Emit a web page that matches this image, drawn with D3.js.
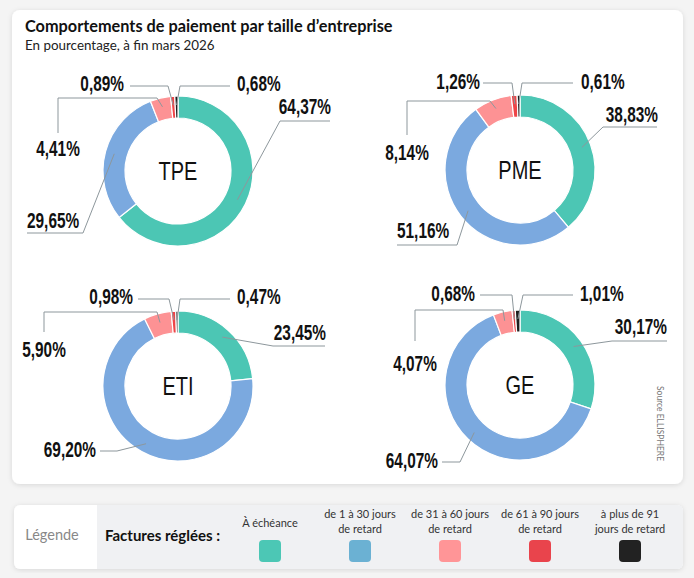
<!DOCTYPE html>
<html>
<head>
<meta charset="utf-8">
<script src="https://cdn.jsdelivr.net/npm/d3@7"></script>
<style>
  html, body { margin: 0; padding: 0; background: #f4f4f4; }
  svg { display: block; }
</style>
</head>
<body>
<svg id="chart" width="694" height="578"></svg>
<script>
// data
var categories = ["TPE", "PME", "ETI", "GE"];
var seriesNames = ["À échéance", "de 1 à 30 jours de retard", "de 31 à 60 jours de retard",
                   "de 61 à 90 jours de retard", "à plus de 91 jours de retard"];
var tpeValues = [64.37, 29.65, 4.41, 0.89, 0.68];
var pmeValues = [38.83, 51.16, 8.14, 1.26, 0.61];
var etiValues = [23.45, 69.20, 5.90, 0.98, 0.47];
var geValues  = [30.17, 64.07, 4.07, 0.68, 1.01];
var legendLines = [["À échéance"], ["de 1 à 30 jours", "de retard"], ["de 31 à 60 jours", "de retard"],
                   ["de 61 à 90 jours", "de retard"], ["à plus de 91", "jours de retard"]];

var ringColors = ["#4cc6b4", "#7ba9df", "#fd9294", "#ee4548", "#1e1e1e"];
var legendColors = ["#4cc7b5", "#6bb1d3", "#ff9597", "#e9444c", "#222222"];

var svg = d3.select("#chart");
// condensed look: Liberation Sans squeezed horizontally
var labelFont = "'Liberation Sans', Arial, sans-serif";
var uiFont = "Lato, 'Open Sans', sans-serif";

// card
var defs = svg.append("defs");
var f = defs.append("filter").attr("id", "shadow").attr("x", "-5%").attr("y", "-5%").attr("width", "110%").attr("height", "110%");
f.append("feDropShadow").attr("dx", 0).attr("dy", 1).attr("stdDeviation", 2.5).attr("flood-color", "#000").attr("flood-opacity", 0.12);

svg.append("rect")
    .attr("x", 12).attr("y", 10).attr("width", 671).attr("height", 474)
    .attr("rx", 8).attr("fill", "#fff").attr("filter", "url(#shadow)");

svg.append("text").attr("x", 25).attr("y", 32)
    .style("font-family", uiFont).style("font-weight", 700).style("font-size", "16.3px").attr("fill", "#111")
    .text("Comportements de paiement par taille d\u2019entreprise");
svg.append("text").attr("x", 25).attr("y", 50)
    .style("font-family", uiFont).style("font-size", "13.4px").attr("fill", "#222")
    .text("En pourcentage, à fin mars 2026");

// source
svg.append("text")
    .attr("transform", "translate(657,386) rotate(90)")
    .style("font-family", uiFont).style("font-size", "8.5px").attr("fill", "#777")
    .text("Source ELLISPHERE");

// donuts
var outerR = 75, innerR = 53;
var pie = d3.pie().sort(null).value(function(d) { return d; });
var arc = d3.arc().innerRadius(innerR).outerRadius(outerR);
var labelArc = d3.arc().innerRadius(60).outerRadius(72);
var fmt = function(v) { return d3.format(".2f")(v).replace(".", ",") + "%"; };

var charts = [
  { name: categories[0], values: tpeValues, cx: 178, cy: 171,
    labels: [
      { pts: [[102, -50], [152, -50]], tx: 153, ty: -57, anchor: "end" },
      { pts: [[-95, 62], [-151, 62]], tx: -151, ty: 57, anchor: "start" },
      { pts: [[-21, -73], [-120, -73], [-120, -38]], tx: -120, ty: -15, anchor: "middle" },
      { pts: [[-10, -85], [-48, -85]], tx: -54, ty: -80, anchor: "end" },
      { pts: [[2, -85], [52, -85]], tx: 59, ty: -80, anchor: "start" }
    ] },
  { name: categories[1], values: pmeValues, cx: 520, cy: 170,
    labels: [
      { pts: [[83, -43], [137, -43]], tx: 138, ty: -48, anchor: "end" },
      { pts: [[-63, 75], [-123, 75]], tx: -123, ty: 68, anchor: "start" },
      { pts: [[-30, -69], [-113, -69], [-113, -35]], tx: -113, ty: -10, anchor: "middle" },
      { pts: [[-8, -87], [-37, -87]], tx: -40, ty: -81, anchor: "end" },
      { pts: [[2, -87], [53, -87]], tx: 61, ty: -81, anchor: "start" }
    ] },
  { name: categories[2], values: etiValues, cx: 178, cy: 386,
    labels: [
      { pts: [[95, -40], [147, -40]], tx: 148, ty: -46, anchor: "end" },
      { pts: [[-61, 65], [-78, 65]], tx: -82, ty: 71, anchor: "end" },
      { pts: [[-21, -74], [-134, -74], [-134, -54]], tx: -134, ty: -29, anchor: "middle" },
      { pts: [[-9, -87], [-40, -87]], tx: -45, ty: -82, anchor: "end" },
      { pts: [[2, -87], [52, -87]], tx: 59, ty: -82, anchor: "start" }
    ] },
  { name: categories[3], values: geValues, cx: 520, cy: 385,
    labels: [
      { pts: [[92, -44], [147, -44]], tx: 147, ty: -51, anchor: "end" },
      { pts: [[-60, 77], [-78, 77]], tx: -82, ty: 83, anchor: "end" },
      { pts: [[-17, -75], [-105, -75], [-105, -44]], tx: -105, ty: -14, anchor: "middle" },
      { pts: [[-8, -90], [-40, -90]], tx: -45, ty: -84, anchor: "end" },
      { pts: [[3, -90], [53, -90]], tx: 60, ty: -84, anchor: "start" }
    ] }
];

charts.forEach(function(c) {
  var g = svg.append("g").attr("transform", "translate(" + c.cx + "," + c.cy + ")");
  var arcs = pie(c.values);

  g.selectAll("path.slice")
      .data(arcs)
    .enter().append("path")
      .attr("class", "slice")
      .attr("d", arc)
      .attr("fill", function(d, i) { return ringColors[i]; })
      .attr("stroke", "#fff")
      .attr("stroke-width", 1.2);

  var line = d3.line();
  g.selectAll("path.leader")
      .data(arcs)
    .enter().append("path")
      .attr("class", "leader")
      .attr("fill", "none")
      .attr("stroke", "#8d979c")
      .attr("stroke-width", 1)
      .attr("d", function(d, i) {
        return line([labelArc.centroid(d)].concat(c.labels[i].pts));
      });

  g.selectAll("text.val")
      .data(arcs)
    .enter().append("text")
      .attr("class", "val")
      .attr("transform", function(d, i) {
        return "translate(" + c.labels[i].tx + "," + c.labels[i].ty + ") scale(0.7,1)";
      })
      .attr("text-anchor", function(d, i) { return c.labels[i].anchor; })
      .style("font-family", labelFont)
      .style("font-weight", 700)
      .style("font-size", "22px")
      .attr("fill", "#111")
      .text(function(d) { return fmt(d.data); });

  g.append("text")
      .attr("transform", "scale(0.8,1)")
      .attr("text-anchor", "middle")
      .attr("dy", "0.36em")
      .style("font-family", labelFont)
      .style("font-size", "25px")
      .attr("fill", "#111")
      .text(c.name);
});

// legend
var lg = svg.append("g");
lg.append("rect").attr("x", 14).attr("y", 505).attr("width", 669).attr("height", 64)
    .attr("rx", 6).attr("fill", "#fff").attr("filter", "url(#shadow)");
lg.append("path")
    .attr("d", "M97,505 H677 Q683,505 683,511 V563 Q683,569 677,569 H97 Z")
    .attr("fill", "#f0f1f3");
lg.append("text").attr("x", 52).attr("y", 540).attr("text-anchor", "middle")
    .style("font-family", uiFont).style("font-size", "14.5px").attr("fill", "#888")
    .text("Légende");
lg.append("text").attr("x", 105).attr("y", 541)
    .style("font-family", uiFont).style("font-weight", 700).style("font-size", "15px").attr("fill", "#111")
    .text("Factures réglées :");

var legendX = d3.scalePoint().domain(seriesNames).range([270, 630]);
var item = lg.selectAll("g.item")
    .data(seriesNames)
  .enter().append("g")
    .attr("class", "item")
    .attr("transform", function(d) { return "translate(" + legendX(d) + ",0)"; });

item.append("rect")
    .attr("x", -11).attr("y", 540).attr("width", 22).attr("height", 22).attr("rx", 4)
    .attr("fill", function(d, i) { return legendColors[i]; });

item.each(function(d, i) {
  var lines = legendLines[i];
  var t = d3.select(this).append("text")
      .attr("text-anchor", "middle")
      .style("font-family", uiFont).style("font-size", "11px").attr("fill", "#333");
  lines.forEach(function(s, j) {
    t.append("tspan").attr("x", 0)
      .attr("y", lines.length === 1 ? 527 : 518 + j * 15)
      .text(s);
  });
});
</script>
</body>
</html>
